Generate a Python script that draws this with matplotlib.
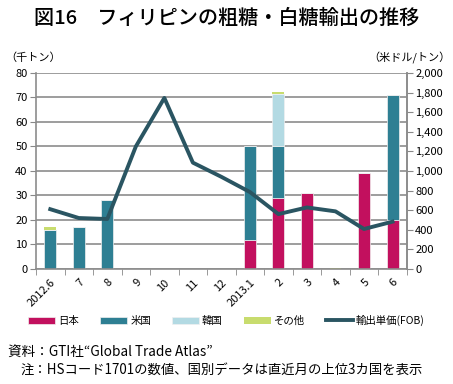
import numpy as np
import matplotlib
matplotlib.use('Agg')
import matplotlib.pyplot as plt

plt.rcParams['font.family'] = ['Noto Sans CJK JP', 'DejaVu Sans']

months = ['2012.6', '7', '8', '9', '10', '11', '12', '2013.1', '2', '3', '4', '5', '6']
japan = [0, 0, 0, 0, 0, 0, 0, 12, 29, 31, 0, 39, 20]
usa = [16, 17, 28, 0, 0, 0, 0, 38, 21, 0, 0, 0, 51]
korea = [0, 0, 0, 0, 0, 0, 0, 0, 21.5, 0, 0, 0, 0]
other = [1, 0, 0, 0, 0, 0, 0, 0, 0.7, 0, 0.5, 0, 0]
price = [610, 520, 510, 1250, 1745, 1085, 940, 785, 560, 628, 588, 408, 483]

c_jp = '#C2105E'
c_us = '#2E7F93'
c_kr = '#B3DAE3'
c_ot = '#C8DC6E'
c_line = '#2A5562'

fig = plt.figure(figsize=(4.53, 3.84), dpi=100)
ax = fig.add_axes([0.0795, 0.2995, 0.8185, 0.5105])
x = np.arange(len(months))
w = 0.42

b1 = np.array(japan)
b2 = b1 + np.array(usa)
b3 = b2 + np.array(korea)
h1 = ax.bar(x, japan, w, color=c_jp, edgecolor='#f0f0f0', linewidth=0.5, label='日本')
h2 = ax.bar(x, usa, w, bottom=b1, color=c_us, edgecolor='#f0f0f0', linewidth=0.5, label='米国')
h3 = ax.bar(x, korea, w, bottom=b2, color=c_kr, edgecolor='#f0f0f0', linewidth=0.5, label='韓国')
h4 = ax.bar(x, other, w, bottom=b3, color=c_ot, edgecolor='none', label='その他')

ax.set_ylim(0, 80)
ax.set_yticks(range(0, 81, 10))
ax.set_xlim(-0.5, len(months) - 0.5)
ax.set_xticks(x)
ax.set_xticklabels(months, rotation=45, ha='right', rotation_mode='anchor')
ax.set_xticks(np.arange(-0.5, len(months), 1), minor=True)
ax.tick_params(axis='x', which='major', length=0, pad=6, labelsize=8)
ax.tick_params(axis='x', which='minor', length=4, color='#888888')
ax.tick_params(axis='y', length=4, color='#888888', labelsize=8, pad=2)
ax.yaxis.grid(True, color='#8c8c8c', linewidth=1.2)
ax.set_axisbelow(True)
for s in ['top']:
    ax.spines[s].set_visible(False)
for s in ['left', 'right', 'bottom']:
    ax.spines[s].set_color('#8c8c8c')
    ax.spines[s].set_linewidth(1.2)

ax2 = ax.twinx()
l1, = ax2.plot(x, price, color=c_line, linewidth=2.8, label='輸出単価(FOB)')
ax2.set_ylim(0, 2000)
ax2.set_yticks(range(0, 2001, 200))
ax2.set_yticklabels([f'{v:,}' for v in range(0, 2001, 200)])
ax2.tick_params(axis='y', length=4, color='#888888', labelsize=8, pad=2)
for s in ['top', 'left', 'bottom']:
    ax2.spines[s].set_visible(False)
ax2.spines['right'].set_color('#8c8c8c')
ax2.spines['right'].set_linewidth(1.2)

fig.text(0.5, 0.953, '図16　フィリピンの粗糖・白糖輸出の推移', ha='center', va='center',
         fontsize=14.5, fontweight='medium')
fig.text(0.012, 0.85, '（千トン）', ha='left', va='center', fontsize=8)
fig.text(0.995, 0.85, '（米ドル/トン）', ha='right', va='center', fontsize=8)

fig.legend([h1, h2, h3, h4, l1], ['日本', '米国', '韓国', 'その他', '輸出単価(FOB)'],
           loc='center', bbox_to_anchor=(0.5, 0.165), ncol=5, frameon=False,
           fontsize=7.5, handlelength=2.6, handleheight=0.7, columnspacing=2.0,
           handletextpad=0.3)

fig.text(0.018, 0.085, '資料：GTI社“Global Trade Atlas”', ha='left', va='center', fontsize=9.8)
fig.text(0.045, 0.036, '注：HSコード1701の数値、国別データは直近月の上位3カ国を表示',
         ha='left', va='center', fontsize=9.6)

fig.savefig('out.png', dpi=100)
